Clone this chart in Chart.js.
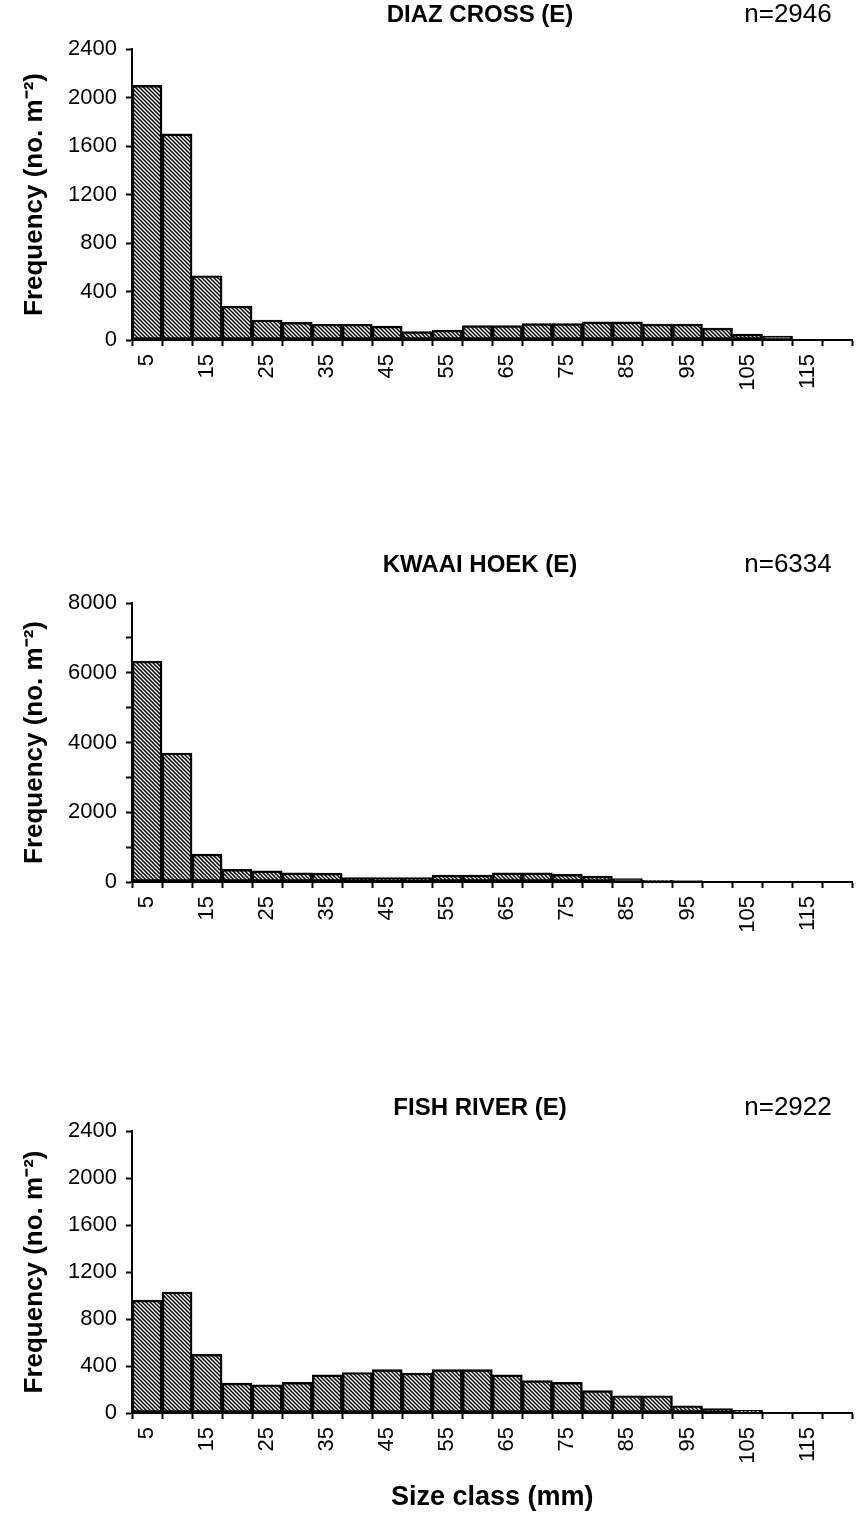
<!DOCTYPE html>
<html>
<head>
<meta charset="utf-8">
<script src="https://cdn.jsdelivr.net/npm/chart.js@4.4.1/dist/chart.umd.min.js"></script>
<style>
  body { margin: 0; background: #fff; width: 858px; height: 1515px; position: relative; overflow: hidden; }
  canvas { position: absolute; left: 0; }
</style>
</head>
<body>
<canvas id="diaz" width="872" height="400" style="top:0px"></canvas>
<canvas id="kwaai" width="872" height="410" style="top:530px"></canvas>
<canvas id="fish" width="872" height="455" style="top:1060px"></canvas>
<script>
// size classes (mm), one bar per 5 mm class
const sizeClasses = ['5', '10', '15', '20', '25', '30', '35', '40', '45', '50', '55', '60',
                     '65', '70', '75', '80', '85', '90', '95', '100', '105', '110', '115', '120'];

// frequency (no. m-2)
const diazCross = [2100, 1700, 530, 280, 165, 145, 130, 130, 115, 70, 82, 118,
                   118, 135, 135, 150, 150, 132, 132, 98, 48, 32, 4, 3];
const kwaaiHoek = [6330, 3700, 800, 360, 320, 260, 255, 130, 125, 125, 200, 200,
                   265, 265, 220, 170, 100, 50, 40, 8, 5, 5, 5, 5];
const fishRiver = [960, 1030, 500, 255, 240, 260, 325, 345, 370, 340, 370, 370,
                   325, 275, 260, 190, 147, 147, 62, 37, 23, 5, 3, 2];

const panelTitles = ['DIAZ CROSS (E)', 'KWAAI HOEK (E)', 'FISH RIVER (E)'];
const panelN = ['n=2946', 'n=6334', 'n=2922'];
const yMax = [2400, 8000, 2400];
const yMinorStep = [200, 1000, 200];
const yLabelStep = [400, 2000, 400];

const FONT = '"Liberation Sans", Arial, sans-serif';

// diagonal hatch fill like the scanned figure
const makeHatch = () => {
    const c = document.createElement('canvas');
    c.width = 4; c.height = 4;
    const g = c.getContext('2d');
    g.strokeStyle = '#000';
    g.lineWidth = 1.5;
    g.beginPath();
    g.moveTo(-1, -1); g.lineTo(5, 5);
    g.moveTo(-1, 3); g.lineTo(1, 5);
    g.moveTo(3, -1); g.lineTo(5, 1);
    g.stroke();
    return g.createPattern(c, 'repeat');
};

// station name and n= drawn above the plot
const panelText = {
    id: 'panelText',
    afterDraw(chart, args, opts) {
        const ctx = chart.ctx;
        ctx.save();
        ctx.fillStyle = '#000';
        ctx.textBaseline = 'middle';
        ctx.textAlign = 'center';
        ctx.font = 'bold 24px ' + FONT;
        ctx.fillText(opts.title, 480, opts.y);
        ctx.font = '26px ' + FONT;
        ctx.fillText(opts.n, 788, opts.y);
        ctx.restore();
    }
};

const makePanel = (id, idx, values, areaTop, areaBottom, canvasH, textY, xTitle) => {
    const ctx = document.getElementById(id).getContext('2d');
    new Chart(ctx, {
        type: 'bar',
        data: {
            labels: sizeClasses,
            datasets: [{
                data: values,
                backgroundColor: makeHatch(),
                borderColor: '#000',
                borderWidth: 1.8,
                borderSkipped: false,
                barPercentage: 1,
                categoryPercentage: 1
            }]
        },
        options: {
            responsive: false,
            animation: false,
            devicePixelRatio: 1,
            layout: { padding: { top: areaTop, right: 0, bottom: 0, left: 0 } },
            plugins: {
                legend: { display: false },
                tooltip: { enabled: false },
                panelText: { title: panelTitles[idx], n: panelN[idx], y: textY }
            },
            scales: {
                x: {
                    offset: true,
                    grid: { offset: true, drawOnChartArea: false, drawTicks: true, tickLength: 6, tickWidth: 2, color: '#000' },
                    border: { display: true, color: '#000', width: 2 },
                    ticks: {
                        autoSkip: false,
                        minRotation: 90,
                        maxRotation: 90,
                        padding: 8,
                        color: '#000',
                        font: { family: FONT, size: 22 },
                        callback: function (val, i) { return i % 2 === 0 ? this.getLabelForValue(val) : ''; }
                    },
                    title: {
                        display: !!xTitle,
                        text: xTitle || '',
                        color: '#000',
                        font: { family: FONT, size: 27, weight: 'bold' },
                        padding: { top: 0, bottom: 1 }
                    },
                    afterFit: (s) => { s.height = canvasH - areaBottom; }
                },
                y: {
                    min: 0,
                    max: yMax[idx],
                    grid: { drawOnChartArea: false, drawTicks: true, tickLength: 6, tickWidth: 2, color: '#000' },
                    border: { display: true, color: '#000', width: 2 },
                    ticks: {
                        stepSize: yMinorStep[idx],
                        padding: 9,
                        color: '#000',
                        font: { family: FONT, size: 22 },
                        callback: (v) => v % yLabelStep[idx] === 0 ? v : ''
                    },
                    title: {
                        display: true,
                        text: 'Frequency (no. m⁻²)',
                        color: '#000',
                        font: { family: FONT, size: 26, weight: 'bold' },
                        padding: { top: 19, bottom: 0 }
                    },
                    afterFit: (s) => { s.width = 132; }
                }
            }
        },
        plugins: [panelText]
    });
};

makePanel('diaz', 0, diazCross, 49, 340, 400, 15, null);
makePanel('kwaai', 1, kwaaiHoek, 73, 352, 410, 35, null);
makePanel('fish', 2, fishRiver, 71, 353, 455, 48, 'Size class (mm)');
</script>
</body>
</html>
